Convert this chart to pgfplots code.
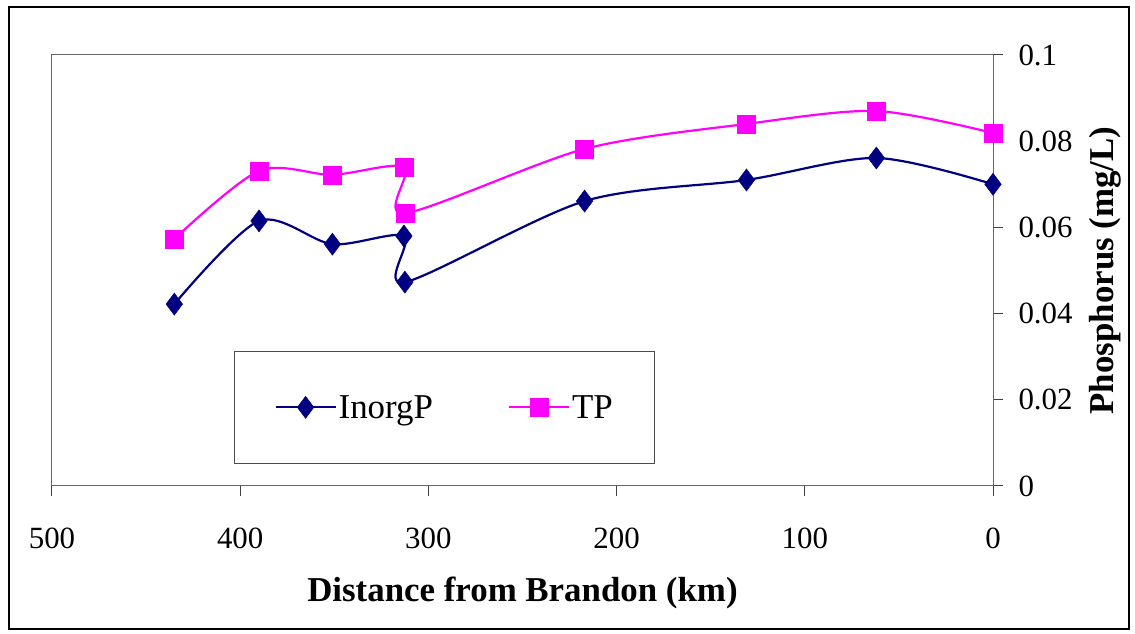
\documentclass[border=0pt]{standalone}
\usepackage{fontspec}
\setmainfont{Liberation Serif}
\usepackage{pgfplots}
\pgfplotsset{compat=1.18}
\definecolor{inorg}{RGB}{0,0,128}
\definecolor{tp}{RGB}{255,0,255}
\begin{document}
\begin{tikzpicture}[x=1bp,y=1bp]
\path (0,0) rectangle (1135,634);
\draw[black, line width=1.5bp] (9,5) rectangle (1129,627);
\begin{axis}[
  at={(52bp,148bp)}, anchor=south west,
  scale only axis, width=941bp, height=431bp,
  xmin=0, xmax=500, x dir=reverse,
  ymin=0, ymax=0.1,
  xtick={0,100,200,300,400,500},
  ytick={0,0.02,0.04,0.06,0.08,0.1},
  xtick pos=bottom, ytick pos=right,
  yticklabel pos=right,
  xticklabels={0,100,200,300,400,500},
  yticklabels={0,0.02,0.04,0.06,0.08,0.1},
  tick align=outside,
  major tick length=10bp,
  tick style={black!75, line width=1bp},
  axis line style={black!60, line width=1bp},
  ticklabel style={font=\fontsize{31}{36}\selectfont},
  xticklabel style={yshift=-28bp},
  yticklabel style={xshift=12bp},
  xlabel={\textbf{Distance from Brandon (km)}},
  ylabel={\textbf{Phosphorus (mg/L)}},
  label style={font=\fontsize{35}{40}\selectfont},
  xlabel style={yshift=-22bp},
  ylabel style={rotate=0, yshift=-10bp},
  legend columns=2,
  legend style={at={(0.1934,0.051)}, anchor=south west, draw=black!70, line width=1bp,
    inner xsep=40bp, inner ysep=42bp,
    font=\fontsize{35}{40}\selectfont,
    /tikz/every even column/.append style={column sep=73bp}},
  legend image code/.code={\draw[#1] (0bp,0bp) -- (60bp,0bp); \draw[#1,mark repeat=2,mark phase=2] plot coordinates {(0bp,0bp) (30bp,0bp) (60bp,0bp)};},
  clip=false,
]
\addplot[inorg, line width=2.2bp, smooth, tension=0.5, mark=diamond*, mark size=11bp, mark options={solid,fill=inorg,line width=0.5bp}]
coordinates {(435,0.0422) (390,0.0615) (351,0.0561) (313,0.0580) (312.5,0.0473) (217,0.0661) (131,0.0710) (62,0.0761) (0,0.0700)};
\addlegendentry{InorgP}
\addplot[tp, line width=2.2bp, smooth, tension=0.5, mark=square*, mark size=9bp, mark options={solid,fill=tp,line width=0.5bp}]
coordinates {(435,0.0573) (390,0.0731) (351,0.0722) (313,0.0740) (312.5,0.0633) (217,0.0782) (131,0.0840) (62,0.0870) (0,0.0819)};
\addlegendentry{TP}
\end{axis}
\end{tikzpicture}
\end{document}
